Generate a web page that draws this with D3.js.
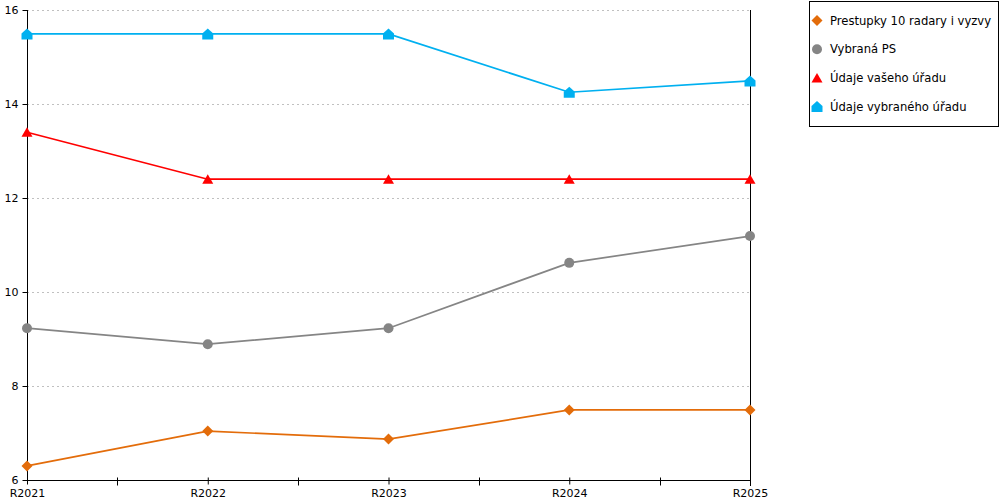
<!DOCTYPE html>
<html><head><meta charset="utf-8">
<script src="https://cdn.jsdelivr.net/npm/d3@7"></script>
<style>body{margin:0;background:#fff}svg{display:block}</style>
</head><body><svg id="c" width="1000" height="500"></svg>
<script>
const categories = ["R2021","R2022","R2023","R2024","R2025"];
const seriesNames = ["Prestupky 10 radary i vyzvy","Vybraná PS","Údaje vašeho úřadu","Údaje vybraného úřadu"];
const prestupky = [6.30, 7.04, 6.87, 7.49, 7.49];
const vybranaPS = [9.23, 8.89, 9.23, 10.62, 11.19];
const vasUrad = [13.40, 12.40, 12.40, 12.40, 12.40];
const vybranyUrad = [15.49, 15.49, 15.49, 14.25, 14.49];
const yTicks = [6, 8, 10, 12, 14, 16];
const colors = ["#e36c0a", "#858585", "#ff0000", "#00b0f0"];
const shapes = ["diamond", "circle", "triangle", "house"];

const svg = d3.select("#c");
const font = "DejaVu Sans, Verdana, sans-serif";
const x = d3.scalePoint().domain(categories).range([27, 750]);
const y = d3.scaleLinear().domain([6, 16]).range([480, 10]);

// grid
svg.append("g").selectAll("line").data(yTicks.filter(t => t > 6)).join("line")
  .attr("x1", 27).attr("x2", 750).attr("y1", d => y(d) + 0.5).attr("y2", d => y(d) + 0.5)
  .attr("stroke", "#c0c0c0").attr("stroke-width", 1).attr("stroke-dasharray", "2,3");

// y axis
const ya = svg.append("g").attr("transform", "translate(27.5,0)")
  .call(d3.axisLeft(y).tickValues(yTicks).tickSize(5).tickPadding(4));
ya.select(".domain").attr("stroke", "#000").attr("d", `M0,${y(16)}V${y(6)}`);
ya.selectAll("text").attr("font-family", font).attr("font-size", 11).attr("fill", "#000");

// right vertical line
svg.append("line").attr("x1", 750.5).attr("x2", 750.5).attr("y1", y(16)).attr("y2", 486)
  .attr("stroke", "#000");

// x axis
const xa = svg.append("g").attr("transform", "translate(0,480.5)")
  .call(d3.axisBottom(x).tickSize(4).tickPadding(5));
xa.select(".domain").attr("stroke", "#000").attr("d", `M27,0H750`);
xa.selectAll(".tick line").attr("y1", -3).attr("y2", 4);
xa.selectAll("text").attr("font-family", font).attr("font-size", 11).attr("fill", "#000");
// midpoint minor ticks
const mids = categories.slice(1).map((c, i) => (x(categories[i]) + x(c)) / 2);
xa.append("g").selectAll("line").data(mids).join("line")
  .attr("x1", d => Math.round(d) + 0.5).attr("x2", d => Math.round(d) + 0.5)
  .attr("y1", -3).attr("y2", 5).attr("stroke", "#000");

function markerPath(shape) {
  switch (shape) {
    case "diamond": return "M0,-5.5L5.5,0L0,5.5L-5.5,0Z";
    case "circle": return "M5,0A5,5 0 1,1 -5,0A5,5 0 1,1 5,0Z";
    case "triangle": return "M0,-5L5.5,4.5L-5.5,4.5Z";
    case "house": return "M0,-5.5L5.5,-0.5L5.5,5.5L-5.5,5.5L-5.5,-0.5Z";
  }
}

const allSeries = [prestupky, vybranaPS, vasUrad, vybranyUrad];
const line = d3.line().x((d, i) => x(categories[i])).y(d => y(d));
allSeries.forEach((vals, s) => {
  const g = svg.append("g");
  g.append("path").attr("d", line(vals)).attr("fill", "none")
    .attr("stroke", colors[s]).attr("stroke-width", 1.7);
  g.selectAll("path.m").data(vals).join("path").attr("class", "m")
    .attr("transform", (d, i) => `translate(${x(categories[i])},${y(d)})`)
    .attr("d", markerPath(shapes[s])).attr("fill", colors[s]);
});

// legend
const lg = svg.append("g");
lg.append("rect").attr("x", 809.5).attr("y", 1.5).attr("width", 189).attr("height", 125)
  .attr("fill", "#fff").attr("stroke", "#000");
seriesNames.forEach((n, i) => {
  const cy = 20.5 + i * 28.7;
  lg.append("path").attr("transform", `translate(817,${cy})`).attr("d", markerPath(shapes[i]))
    .attr("fill", colors[i]);
  lg.append("text").attr("x", 830).attr("y", cy).attr("dy", "0.35em")
    .attr("font-family", font).attr("font-size", 11.6).attr("fill", "#000").text(n);
});
</script></body></html>
